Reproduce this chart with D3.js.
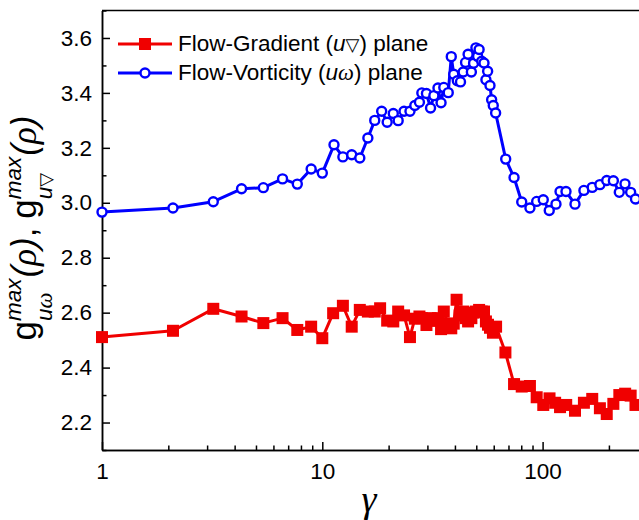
<!DOCTYPE html>
<html>
<head>
<meta charset="utf-8">
<script src="https://cdn.jsdelivr.net/npm/d3@7"></script>
<style>
  body { margin: 0; background: #fff; }
  svg { display: block; }
</style>
</head>
<body>
<script>
// Shear rate (gamma) and peak pair-correlation height, flow-vorticity plane
const gammaVort = [1, 2.1, 3.2, 4.3, 5.4, 6.6, 7.7, 8.9, 10, 11.3, 12.4, 13.6, 14.8, 16.1, 17.3, 18.6, 19.7, 21.0, 22.1, 23.5,
  25.0, 26.3, 27.6, 28.3, 29.7, 31.0, 32.1, 33.5, 34.6, 35.6, 37.3, 38.5, 39.5, 41.0, 42.4, 43.6, 44.7, 45.9, 47.5, 48.6,
  49.8, 50.7, 51.5, 52.9, 54.2, 55.3, 56.3, 57.7, 58.7, 59.7, 61.2, 68.0, 74.2, 80.4, 87.6, 94.0, 100.7, 107.2, 115, 120,
  127.7, 140.3, 154, 168, 182, 195.5, 209.5, 222.9, 236.6, 251, 264];
const gVort = [2.966, 2.981, 3.004, 3.051, 3.055, 3.087, 3.068, 3.123, 3.108, 3.211, 3.167, 3.175, 3.163, 3.236, 3.300, 3.333, 3.293, 3.325, 3.299, 3.333,
  3.333, 3.354, 3.366, 3.400, 3.398, 3.345, 3.390, 3.418, 3.364, 3.420, 3.401, 3.532, 3.468, 3.444, 3.440, 3.476, 3.511, 3.541, 3.476, 3.508,
  3.564, 3.533, 3.558, 3.515, 3.509, 3.448, 3.479, 3.427, 3.375, 3.354, 3.327, 3.159, 3.092, 3.003, 2.981, 3.005, 3.011, 2.972, 2.995, 3.041,
  3.041, 2.995, 3.045, 3.056, 3.066, 3.081, 3.080, 3.038, 3.069, 3.038, 3.014];

// Flow-gradient plane
const gammaGrad = [1, 2.1, 3.2, 4.3, 5.4, 6.6, 7.7, 8.9, 10, 11.2, 12.4, 13.6, 14.8, 16.1, 17.3, 18.3, 19.7, 21.0, 22.1, 23.5,
  25.0, 26.3, 27.6, 28.3, 29.7, 31.0, 32.1, 33.5, 34.6, 35.6, 37.3, 38.5, 39.5, 40.7, 42.0, 43.6, 44.7, 45.9, 47.5, 48.6,
  49.8, 51.5, 52.9, 54.2, 55.3, 56.5, 57.7, 59.5, 61.5, 67.8, 74.2, 80.4, 87.6, 94.0, 100.7, 107.5, 114, 120, 128, 140.3,
  154, 168, 182, 195.5, 209.5, 223, 237, 251, 264];
const gGrad = [2.511, 2.534, 2.614, 2.586, 2.562, 2.580, 2.537, 2.549, 2.507, 2.598, 2.625, 2.549, 2.610, 2.604, 2.604, 2.616, 2.571, 2.568, 2.604, 2.590,
  2.511, 2.578, 2.586, 2.580, 2.555, 2.580, 2.570, 2.580, 2.540, 2.604, 2.560, 2.543, 2.560, 2.647, 2.590, 2.604, 2.580, 2.568, 2.580, 2.600,
  2.604, 2.610, 2.604, 2.604, 2.568, 2.556, 2.545, 2.527, 2.549, 2.455, 2.340, 2.331, 2.333, 2.292, 2.264, 2.288, 2.272, 2.256, 2.264, 2.243,
  2.272, 2.286, 2.252, 2.231, 2.268, 2.300, 2.305, 2.298, 2.264];

const yTicks = [2.2, 2.4, 2.6, 2.8, 3.0, 3.2, 3.4, 3.6];
const yMinorTicks = [2.1, 2.3, 2.5, 2.7, 2.9, 3.1, 3.3, 3.5, 3.7];
const xTicks = [1, 10, 100];
const xMinorTicks = [2, 3, 4, 5, 6, 7, 8, 9, 20, 30, 40, 50, 60, 70, 80, 90, 200, 300];

const RED = "#f00000", BLUE = "#0000ff";
const SANS = "'Liberation Sans', Arial, sans-serif";
const SERIF = "'Liberation Serif', 'Times New Roman', serif";
const NABLA = "\u25BD";

const W = 639, H = 520;
const plotLeft = 102, plotBottom = 450, plotTop = 10.5;
const decade = 220.3;

const svg = d3.select("body").append("svg").attr("width", W).attr("height", H);

const x = d3.scaleLog().domain([1, 300]).range([plotLeft, plotLeft + decade * Math.log10(300)]);
const y = d3.scaleLinear().domain([2.1, 3.7]).range([plotBottom, plotTop]);

// Axes: ticks point into the plot
const yAxis = d3.axisLeft(y).tickValues(yTicks).tickSize(-8).tickSizeOuter(0).tickPadding(10)
  .tickFormat(d3.format(".1f"));
const yMinor = d3.axisLeft(y).tickValues(yMinorTicks).tickSize(-4.5).tickSizeOuter(0).tickFormat("");
const xAxis = d3.axisBottom(x).tickValues(xTicks).tickSize(-8).tickSizeOuter(0).tickPadding(13)
  .tickFormat(d3.format("d"));
const xMinor = d3.axisBottom(x).tickValues(xMinorTicks).tickSize(-4.5).tickSizeOuter(0).tickFormat("");

function styleAxis(g) {
  g.selectAll("path, line").attr("stroke", "#000").attr("stroke-width", 1.5);
  g.selectAll("text").attr("fill", "#000").attr("font-family", SANS).attr("font-size", 22.5);
}

svg.append("g").attr("transform", `translate(${plotLeft},0)`).call(yMinor).call(styleAxis);
svg.append("g").attr("transform", `translate(${plotLeft},0)`).call(yAxis).call(styleAxis);
svg.append("g").attr("transform", `translate(0,${plotBottom})`).call(xMinor).call(styleAxis);
svg.append("g").attr("transform", `translate(0,${plotBottom})`).call(xAxis).call(styleAxis);

// top frame line
svg.append("line").attr("x1", plotLeft).attr("x2", W).attr("y1", plotTop).attr("y2", plotTop)
  .attr("stroke", "#000").attr("stroke-width", 1.5);

// Series
const gradData = gammaGrad.map((g, i) => ({ g, v: gGrad[i] }));
const vortData = gammaVort.map((g, i) => ({ g, v: gVort[i] }));
const line = d3.line().x(d => x(d.g)).y(d => y(d.v));
const sq = 12, cr = 4.5, lw = 3;

svg.append("path").datum(gradData).attr("d", line)
  .attr("fill", "none").attr("stroke", RED).attr("stroke-width", lw).attr("stroke-linejoin", "round");
svg.append("g").selectAll("rect").data(gradData).join("rect")
  .attr("x", d => x(d.g) - sq / 2).attr("y", d => y(d.v) - sq / 2)
  .attr("width", sq).attr("height", sq).attr("fill", RED);

svg.append("path").datum(vortData).attr("d", line)
  .attr("fill", "none").attr("stroke", BLUE).attr("stroke-width", lw).attr("stroke-linejoin", "round");
svg.append("g").selectAll("circle").data(vortData).join("circle")
  .attr("cx", d => x(d.g)).attr("cy", d => y(d.v)).attr("r", cr)
  .attr("fill", "#fff").attr("stroke", BLUE).attr("stroke-width", 2.4);

// Legend
const legendRows = [
  { color: RED, marker: "square", y: 44, parts: [["Flow-Gradient (", SANS, false], ["u", SANS, true], [NABLA, "'DejaVu Sans', sans-serif", false, 0.8], [") plane", SANS, false]] },
  { color: BLUE, marker: "circle", y: 73, parts: [["Flow-Vorticity (", SANS, false], ["u", SANS, true], ["\u03C9", SERIF, true], [") plane", SANS, false]] }
];
const lg = svg.append("g");
legendRows.forEach(r => {
  lg.append("line").attr("x1", 118).attr("x2", 172).attr("y1", r.y).attr("y2", r.y)
    .attr("stroke", r.color).attr("stroke-width", lw);
  if (r.marker === "square") {
    lg.append("rect").attr("x", 145 - sq / 2).attr("y", r.y - sq / 2).attr("width", sq).attr("height", sq).attr("fill", r.color);
  } else {
    lg.append("circle").attr("cx", 145).attr("cy", r.y).attr("r", cr)
      .attr("fill", "#fff").attr("stroke", r.color).attr("stroke-width", 2.4);
  }
  const t = lg.append("text").attr("x", 178).attr("y", r.y + 6.5).attr("font-size", 22.5).attr("fill", "#000");
  r.parts.forEach(p => {
    const ts = t.append("tspan").attr("font-family", p[1]).attr("font-style", p[2] ? "italic" : "normal").text(p[0]);
    if (p[3]) ts.attr("font-size", 22.5 * p[3]);
  });
});

// X axis title
svg.append("text").attr("x", 369).attr("y", 512).attr("text-anchor", "middle")
  .attr("font-family", SERIF).attr("font-style", "italic").attr("font-size", 38).text("\u03B3");

// Y axis title: g^max_{uω}(ρ), g^max_{u▽}(ρ)
const F = 35, S = 22.5;
const tg = svg.append("g").attr("transform", "translate(36,228) rotate(-90)");
const inner = tg.append("g");
let cursor = 0;
function run(parts, size, dy, xPos) {
  const t = inner.append("text").attr("x", xPos).attr("y", dy).attr("font-size", size).attr("fill", "#000");
  parts.forEach(p => {
    const ts = t.append("tspan").attr("font-family", p[1]).attr("font-style", p[2] ? "italic" : "normal").text(p[0]);
    if (p[3]) ts.attr("font-size", size * p[3]);
  });
  return t.node().getComputedTextLength();
}
function seq(parts, size, gap = 0) { cursor += run(parts, size, 0, cursor) + gap; }
function stack(sup, sub) {
  const w1 = run(sup, S, -15.5, cursor);
  const w2 = run(sub, S, 16, cursor);
  cursor += Math.max(w1, w2) + 1;
}
const rho = [["(", SANS, true], ["\u03C1", SERIF, true], [")", SANS, true]];
seq([["g", SANS, false]], F);
stack([["max", SANS, true]], [["u", SANS, true], ["\u03C9", SERIF, true]]);
seq(rho, F);
seq([[",", SANS, false]], F, 9);
seq([["g", SANS, false]], F);
stack([["max", SANS, true]], [["u", SANS, true], [NABLA, "'DejaVu Sans', sans-serif", false, 0.8]]);
seq(rho, F);
inner.attr("transform", `translate(${-cursor / 2},0)`);
</script>
</body>
</html>
